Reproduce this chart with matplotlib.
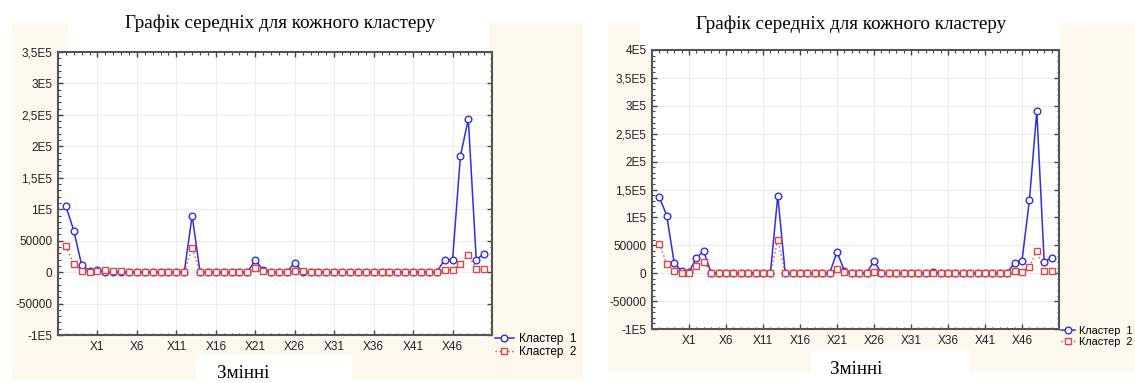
import numpy as np
import matplotlib
matplotlib.use('Agg')
from matplotlib import pyplot as plt
from matplotlib.patches import Rectangle
from matplotlib.ticker import FixedLocator, FixedFormatter

plt.rcParams['font.family'] = ['Liberation Sans', 'DejaVu Sans']

# variables on the x axis (first four have no visible label)
variables = ['A', 'B', 'C', 'D'] + ['X%d' % i for i in range(1, 51)]
tick_labels = ['X1', 'X6', 'X11', 'X16', 'X21', 'X26', 'X31', 'X36', 'X41', 'X46']

# left chart means
left_cluster1 = [105000, 66000, 11000, 2000, 3000, 0, 0, 0, 0, 0,
                 0, 0, 0, 0, 0, 0, 90000, 0, 0, 0,
                 0, 0, 0, 0, 19000, 3000, 0, 0, 0, 15000,
                 0, 0, 0, 0, 0, 0, 0, 0, 0, 0,
                 0, 0, 0, 0, 0, 0, 0, 0, 20000, 19000,
                 185000, 243000, 20000, 29000]
left_cluster2 = [41000, 12500, 2500, 500, 2000, 4000, 1000, 1000, 0, 0,
                 0, 0, 0, 0, 0, 0, 38000, 500, 0, 0,
                 0, 0, 0, 0, 6000, 1000, 0, 0, 0, 1500,
                 1000, 0, 0, 0, 0, 0, 0, 0, 0, 0,
                 0, 0, 0, 0, 0, 0, 0, 0, 4000, 3000,
                 13000, 28000, 5000, 4500]

# right chart means
right_cluster1 = [136000, 103000, 18000, 4000, 2000, 28000, 39000, 0, 0, 0,
                  0, 0, 0, 0, 0, 0, 139000, 0, 0, 0,
                  0, 0, 0, 0, 38000, 4500, 0, 0, 0, 22000,
                  0, 0, 0, 0, 0, 0, 0, 2000, 0, 0,
                  0, 0, 0, 0, 0, 0, 0, 0, 19000, 22000,
                  131000, 290000, 20000, 28000]
right_cluster2 = [53000, 16000, 3500, 0, 1000, 13000, 20500, 500, 0, 0,
                  0, 0, 0, 0, 0, 0, 60000, 500, 0, 0,
                  0, 0, 0, 0, 7000, 1500, 0, 0, 0, 2500,
                  0, 0, 0, 0, 0, 0, 0, 0, 0, 0,
                  0, 0, 0, 0, 0, 0, 0, 0, 3500, 2500,
                  12000, 40500, 4500, 4500]

left_yticks = [-100000, -50000, 0, 50000, 100000, 150000, 200000, 250000, 300000, 350000]
left_ylabels = ['-1E5', '-50000', '0', '50000', '1E5', '1,5E5', '2E5', '2,5E5', '3E5', '3,5E5']
right_yticks = left_yticks + [400000]
right_ylabels = left_ylabels + ['4E5']

series_names = ['Кластер  1', 'Кластер  2']
title = 'Графік середніх для кожного кластеру'
xlabel = 'Змінні'

W, H = 1135, 383
fig = plt.figure(figsize=(W / 100, H / 100), dpi=100)
fig.patch.set_facecolor('white')

cream = '#fdf9ee'


def box(x0, y0, x1, y1, color):
    # pixel box (top-left origin) -> figure rectangle
    fig.patches.append(Rectangle((x0 / W, 1 - y1 / H), (x1 - x0) / W, (y1 - y0) / H,
                                 transform=fig.transFigure, facecolor=color,
                                 edgecolor='none', zorder=-10))


# screenshot backgrounds
box(12, 23, 583, 380, cream)
box(68, 0, 489, 52, 'white')
box(196, 355, 352, 383, 'white')
box(608, 23, 1135, 372, cream)
box(640, 0, 1060, 50, 'white')
box(811, 350, 970, 383, 'white')


def draw(rect, c1, c2, yticks, ylabels, ylim):
    ax = fig.add_axes(rect)
    x = np.arange(len(variables))
    ax.plot(x, c1, color='#2f2fe0', lw=1.1, marker='o', ms=4.8,
            mfc='white', mec='#2f2fe0', mew=1.0, label=series_names[0], zorder=3)
    ax.plot(x, c2, color='#e04444', lw=1.0, ls=(0, (1, 2)), marker='s', ms=4.8,
            mfc='white', mec='#e04444', mew=1.0, label=series_names[1], zorder=4)
    ax.set_xlim(-1, 54)
    ax.set_ylim(*ylim)
    ax.xaxis.set_major_locator(FixedLocator([variables.index(t) for t in tick_labels]))
    ax.xaxis.set_major_formatter(FixedFormatter(tick_labels))
    ax.xaxis.set_minor_locator(FixedLocator(x))
    ax.yaxis.set_major_locator(FixedLocator(yticks))
    ax.yaxis.set_major_formatter(FixedFormatter(ylabels))
    ax.yaxis.set_minor_locator(FixedLocator(np.arange(ylim[0], ylim[1] + 1, 10000)))
    ax.tick_params(which='both', direction='in', top=True, right=True,
                   color='#444444', labelsize=8.5, pad=4, labelcolor='#222222')
    ax.tick_params(which='major', length=3.5, width=1.0)
    ax.tick_params(which='minor', length=1.8, width=0.8)
    ax.grid(True, which='major', color='#e8e8ef', lw=0.6)
    for s in ax.spines.values():
        s.set_color('#555555')
        s.set_linewidth(1.5)
    return ax


axL = draw([58 / W, 1 - 335 / H, 434 / W, 283 / H], left_cluster1, left_cluster2,
           left_yticks, left_ylabels, (-100000, 350000))
axR = draw([652 / W, 1 - 329 / H, 407 / W, 279 / H], right_cluster1, right_cluster2,
           right_yticks, right_ylabels, (-100000, 400000))

for ax, lx, ly, fs, hl in [(axL, 495, 333, 8.5, 1.6), (axR, 1061, 326, 7.8, 1.3)]:
    ax.legend(loc='upper left', bbox_to_anchor=(lx / W, 1 - ly / H),
              bbox_transform=fig.transFigure, frameon=False, fontsize=fs,
              handlelength=hl, handletextpad=0.4, labelspacing=0.1,
              borderpad=0, borderaxespad=0)

serif = ['Liberation Serif', 'DejaVu Serif']
fig.text(280 / W, 1 - 23 / H, title, ha='center', va='center', fontsize=13.8, family=serif)
fig.text(851 / W, 1 - 24 / H, title, ha='center', va='center', fontsize=13.8, family=serif)
fig.text(243 / W, 1 - 374 / H, xlabel, ha='center', va='center', fontsize=13.8, family=serif)
fig.text(856 / W, 1 - 370 / H, xlabel, ha='center', va='center', fontsize=13.8, family=serif)

fig.savefig('out.png', dpi=100, facecolor=fig.get_facecolor())
